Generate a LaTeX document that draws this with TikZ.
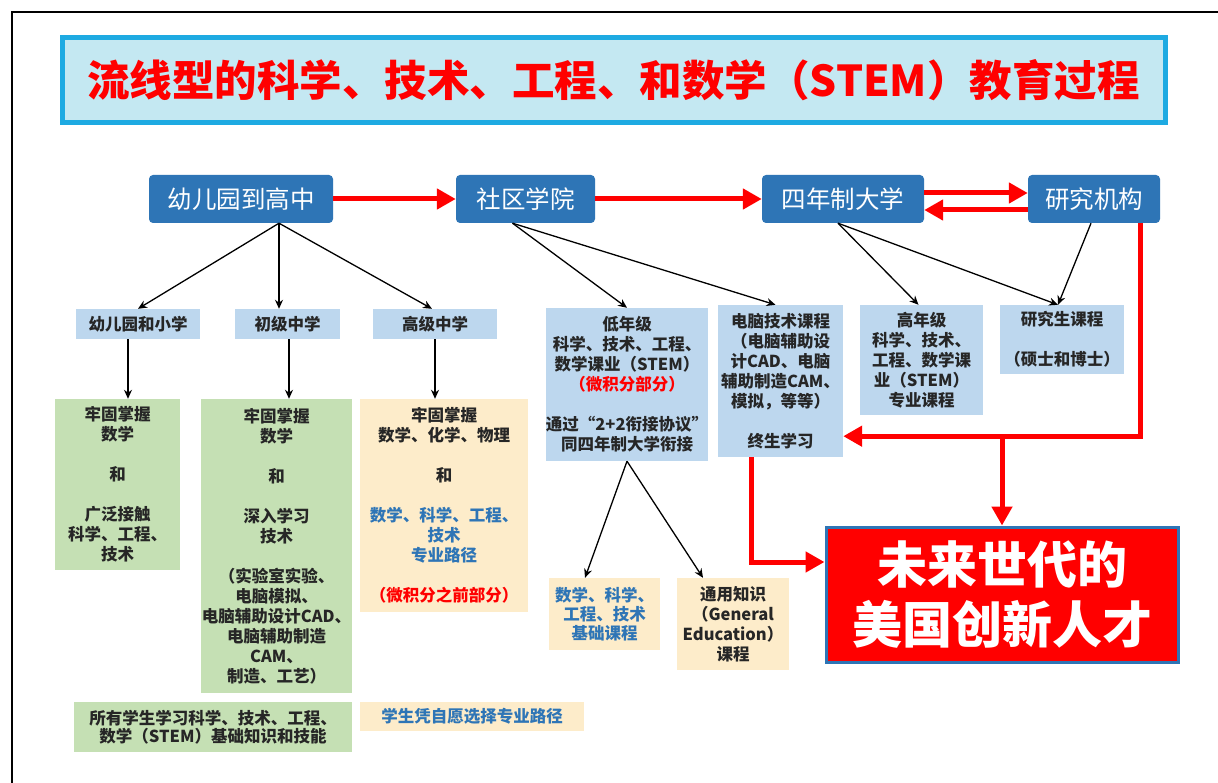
\documentclass[tikz,border=0pt]{standalone}
\usepackage{fontspec}
\newfontfamily\cjk{Noto Sans CJK SC}
\usetikzlibrary{arrows.meta,calc,positioning}
\definecolor{topblue}{RGB}{46,117,182}
\definecolor{boxblue}{RGB}{189,215,238}
\definecolor{boxgreen}{RGB}{197,224,180}
\definecolor{boxcream}{RGB}{253,236,202}
\definecolor{textblue}{RGB}{46,117,182}
\definecolor{textdark}{RGB}{38,38,38}
\definecolor{bannerline}{RGB}{30,170,226}
\definecolor{bannerfill}{RGB}{196,232,242}

\begin{document}
\begin{tikzpicture}[x=1pt,y=-1pt,
  topbox/.style={fill=topblue, rounded corners=4pt, text=white, inner sep=0pt,
    minimum height=48pt, font=\cjk\fontsize{24.5}{28}\selectfont},
  smallfont/.style={font=\cjk\bfseries\fontsize{16.5}{20}\selectfont, text=textdark,
    align=center, inner sep=0pt},
  bluebox/.style={smallfont, fill=boxblue},
  greenbox/.style={smallfont, fill=boxgreen},
  creambox/.style={smallfont, fill=boxcream},
  redarrow/.style={draw=red, line width=5pt, -{Triangle[length=19pt,width=20pt]}},
  blackarrow/.style={draw=black, line width=1.3pt, -{Stealth[length=9pt,width=8pt]}}]
\useasboundingbox (0,0) rectangle (1218,783);
\fill[white] (0,0) rectangle (1218,783);
\draw[line width=2pt] (12,790) -- (12,12) -- (1225,12);

% title banner
\node[draw=bannerline, line width=5pt, fill=bannerfill, minimum width=1103pt,
  minimum height=85pt, inner sep=0pt, text=red,
  font=\cjk\bfseries\fontsize{42.5}{48}\selectfont] (title) at (613.5,80.5)
  {流线型的科学、技术、工程、和数学（STEM）教育过程};

% top row
\node[topbox, minimum width=184pt] (k12) at (241,199) {幼儿园到高中};
\node[topbox, minimum width=139pt] (cc) at (525.5,199) {社区学院};
\node[topbox, minimum width=162pt] (univ) at (843,199) {四年制大学};
\node[topbox, minimum width=132pt] (inst) at (1094,199) {研究机构};

% school levels
\node[bluebox, minimum width=124pt, minimum height=30pt] (kp) at (138,324) {幼儿园和小学};
\node[bluebox, minimum width=105pt, minimum height=30pt] (ms) at (287.5,324) {初级中学};
\node[bluebox, minimum width=124pt, minimum height=30pt] (hs) at (435,324) {高级中学};

\node[greenbox, minimum width=125pt, minimum height=171pt] (g1) at (117.5,484.5)
  {牢固掌握\\数学\\[20pt]和\\[20pt]广泛接触\\科学、工程、\\技术};
\node[greenbox, minimum width=151pt, minimum height=294pt] (g2) at (276.5,546)
  {牢固掌握\\数学\\[20pt]和\\[20pt]深入学习\\技术\\[20pt]（实验室实验、\\电脑模拟、\\电脑辅助设计CAD、\\电脑辅助制造\\CAM、\\制造、工艺）};
\node[creambox, minimum width=168pt, minimum height=213pt] (c1) at (444,505.5)
  {牢固掌握\\数学、化学、物理\\[20pt]和\\[20pt]\color{textblue}数学、科学、工程、\\\color{textblue}技术\\\color{textblue}专业路径\\[20pt]\color{red}（微积分之前部分）};

\node[greenbox, minimum width=278pt, minimum height=50pt,
  font=\cjk\bfseries\fontsize{16.5}{18.5}\selectfont] (gall) at (213,727)
  {所有学生学习科学、技术、工程、\\数学（STEM）基础知识和技能};
\node[creambox, minimum width=224pt, minimum height=29pt, text=textblue] (cpath) at (472,716.5)
  {学生凭自愿选择专业路径};

% college and university
\node[bluebox, minimum width=156pt, minimum height=153pt] (lower) at (627,384.5)
  {低年级\\科学、技术、工程、\\数学课业（STEM）\\\color{red}（微积分部分）\\[20pt]\color{textdark}通过“2+2衔接协议”\\同四年制大学衔接};
\node[bluebox, minimum width=125pt, minimum height=152pt] (comp) at (780.5,381)
  {电脑技术课程\\（电脑辅助设\\计CAD、电脑\\辅助制造CAM、\\模拟，等等）\\[20pt]终生学习};
\node[bluebox, minimum width=123pt, minimum height=110pt] (upper) at (921.5,360)
  {高年级\\科学、技术、\\工程、数学课\\业（STEM）\\专业课程};
\node[bluebox, minimum width=124pt, minimum height=69pt] (grad) at (1062,339.5)
  {研究生课程\\[20pt]（硕士和博士）};

\node[creambox, minimum width=111pt, minimum height=72pt, text=textblue,
  font=\cjk\bfseries\fontsize{16.5}{19}\selectfont] (basic) at (604.5,614)
  {数学、科学、\\工程、技术\\基础课程};
\node[creambox, minimum width=112pt, minimum height=92pt] (gened) at (733,624)
  {通用知识\\（General\\Education）\\课程};

\node[draw=topblue, line width=3pt, fill=red, minimum width=352pt, minimum height=135pt,
  inner sep=0pt, text=white, align=center,
  font=\cjk\bfseries\fontsize{50}{60}\selectfont] (talent) at (1002,594.5)
  {未来世代的\\美国创新人才};

% red flow
\draw[redarrow] (k12.east) -- (cc.west);
\draw[redarrow] (cc.east) -- (univ.west);
\draw[redarrow] ([yshift=6pt]univ.east) -- ([yshift=6pt]inst.west);
\draw[redarrow] ([yshift=-11pt]inst.west) -- ([yshift=-11pt]univ.east);
\coordinate (lifelong) at ([yshift=21pt]comp.south east);
\coordinate (split) at (talent.north |- lifelong);
\draw[redarrow] ([xshift=-20pt]inst.south east) |- (lifelong);
\draw[redarrow] (split) -- (talent.north);
\draw[redarrow] ([xshift=34pt]comp.south west) |- ([yshift=32.5pt]talent.west);

% black branches
\coordinate (k12foot) at ([xshift=38pt]k12.south);
\draw[blackarrow] (k12foot) -- (kp.north);
\draw[blackarrow] (k12foot) -- (k12foot |- ms.north);
\draw[blackarrow] (k12foot) -- ([xshift=-3pt]hs.north);
\draw[blackarrow] ([xshift=-10pt]kp.south) -- ([xshift=10.5pt]g1.north);
\draw[blackarrow] ([xshift=1.5pt]ms.south) -- ([xshift=12.5pt]g2.north);
\draw[blackarrow] (hs.south) -- ([xshift=-9pt]c1.north);

\coordinate (ccfoot) at ([xshift=-13pt]cc.south);
\draw[blackarrow] (ccfoot) -- (lower.north);
\draw[blackarrow] (ccfoot) -- ([xshift=-5pt]comp.north);
\coordinate (univfoot) at ([xshift=-5pt]univ.south);
\draw[blackarrow] (univfoot) -- ([xshift=-3pt]upper.north);
\draw[blackarrow] (univfoot) -- ([xshift=-4pt]grad.north);
\draw[blackarrow] ([xshift=-3pt]inst.south) -- ([xshift=-4pt]grad.north);
\draw[blackarrow] (lower.south) -- ([xshift=-19.5pt]basic.north);
\draw[blackarrow] (lower.south) -- ([xshift=-30pt]gened.north);
\end{tikzpicture}
\end{document}
